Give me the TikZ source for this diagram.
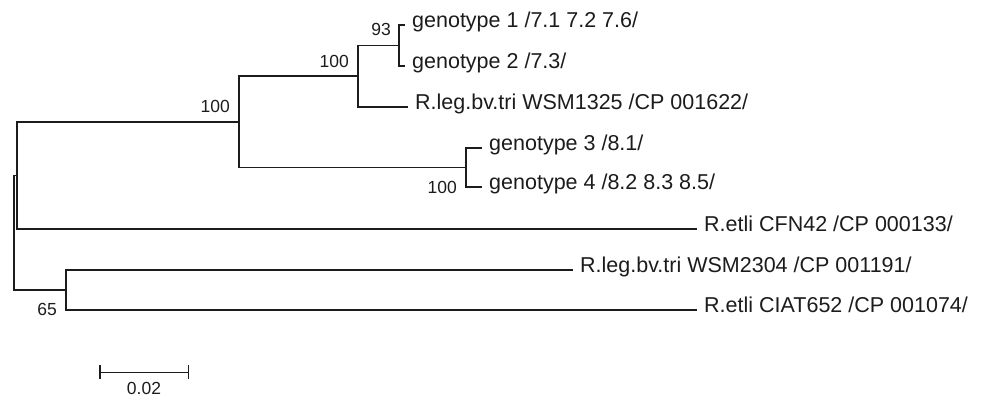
\documentclass[tikz,border=0pt]{standalone}
\usepackage{fontspec}
\setmainfont{Liberation Sans}
\definecolor{ink}{HTML}{1C1C1C}
\begin{document}
\begin{tikzpicture}[x=1pt,y=-1pt,
  branch/.style={draw=ink,line width=1.6pt},
  taxon/.style={anchor=mid west,inner sep=0pt,xshift=7pt,text=ink,
    font=\fontsize{21.5}{24}\selectfont},
  support/.style={inner sep=0pt,text=ink,font=\fontsize{17.5}{20}\selectfont},
]
\useasboundingbox (0,0) rectangle (987,398);

% internal nodes
\coordinate (root) at (14,232.75);
\coordinate (nA) at (17,175.4);
\coordinate (nE) at (239,121.75);
\coordinate (nF) at (358,76);
\coordinate (nG) at (399,45.5);
\coordinate (nH) at (466,167.5);
\coordinate (nB) at (66,290);

% tips
\coordinate (t1) at (405,25);
\coordinate (t2) at (405,66);
\coordinate (t3) at (408,107);
\coordinate (t4) at (482,148);
\coordinate (t5) at (482,187);
\coordinate (t6) at (697,229);
\coordinate (t7) at (573,270);
\coordinate (t8) at (697,310);

% branches
\draw[branch] (root) |- (nA);
\draw[branch] (root) |- (nB);
\draw[branch] (nA) |- (nE);
\draw[branch] (nA) |- (t6);
\draw[branch] (nE) |- (nF);
\draw[branch] (nE) |- (nH);
\draw[branch] (nF) |- (nG);
\draw[branch] (nF) |- (t3);
\draw[branch] (nG) |- (t1);
\draw[branch] (nG) |- (t2);
\draw[branch] (nH) |- (t4);
\draw[branch] (nH) |- (t5);
\draw[branch] (nB) |- (t7);
\draw[branch] (nB) |- (t8);

% taxon labels
\node[taxon] (l1) at (t1) {genotype 1 /7.1 7.2 7.6/};
\node[taxon] (l2) at (t2) {genotype 2 /7.3/};
\node[taxon] (l3) at (t3) {R.leg.bv.tri WSM1325 /CP 001622/};
\node[taxon] (l4) at (t4) {genotype 3 /8.1/};
\node[taxon] (l5) at (t5) {genotype 4 /8.2 8.3 8.5/};
\node[taxon] (l6) at (t6) {R.etli CFN42 /CP 000133/};
\node[taxon] (l7) at (t7) {R.leg.bv.tri WSM2304 /CP 001191/};
\node[taxon] (l8) at (t8) {R.etli CIAT652 /CP 001074/};

% bootstrap values
\node[support,anchor=base east] (bE) at (230,112.7) {100};
\node[support,anchor=base east] (bF) at (349,67.7) {100};
\node[support,anchor=base east] (bG) at (391,35.7) {93};
\node[support,anchor=east] (bH) at (457,187) {100};
\node[support,anchor=east] (bB) at (57,309) {65};

% scale bar
\coordinate (sbL) at (100,372.3);
\coordinate (sbR) at (188.3,372.3);
\draw[branch] (sbL) -- (sbR);
\draw[branch] ([yshift=7pt]sbL) -- ([yshift=-7pt]sbL);
\draw[branch] ([yshift=7pt]sbR) -- ([yshift=-7pt]sbR);
\node[support,anchor=base] (sbT) at (144,394.6) {0.02};
\end{tikzpicture}
\end{document}
